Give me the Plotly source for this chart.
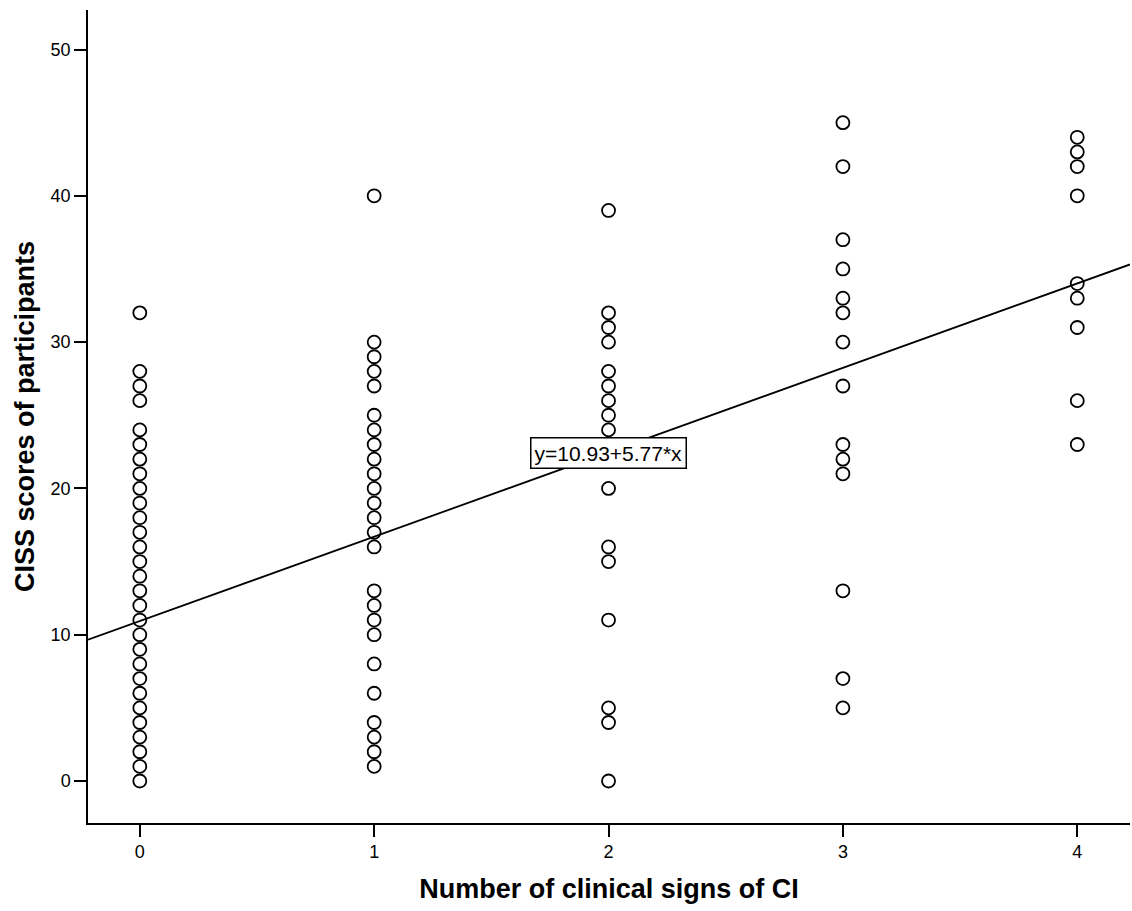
import plotly.graph_objects as go

# Data
signs_0 = [32, 28, 27, 26, 24, 23, 22, 21, 20, 19, 18, 17, 16, 15, 14, 13, 12, 11, 10, 9, 8, 7, 6, 5, 4, 3, 2, 1, 0]
signs_1 = [40, 30, 29, 28, 27, 25, 24, 23, 22, 21, 20, 19, 18, 17, 16, 13, 12, 11, 10, 8, 6, 4, 3, 2, 1]
signs_2 = [39, 32, 31, 30, 28, 27, 26, 25, 24, 20, 16, 15, 11, 5, 4, 0]
signs_3 = [45, 42, 37, 35, 33, 32, 30, 27, 23, 22, 21, 13, 7, 5]
signs_4 = [44, 43, 42, 40, 34, 33, 31, 26, 23]
groups = [signs_0, signs_1, signs_2, signs_3, signs_4]

intercept = 10.93
slope = 5.77
x_range = [-0.221, 4.225]
y_range = [-2.87, 52.7]

xs, ys = [], []
for k, vals in enumerate(groups):
    xs += [k] * len(vals)
    ys += vals

fig = go.Figure()
fig.add_trace(go.Scatter(
    x=[x_range[0], x_range[1]],
    y=[intercept + slope * x_range[0], intercept + slope * x_range[1]],
    mode="lines", line=dict(color="black", width=1.8), showlegend=False, hoverinfo="skip"))
fig.add_trace(go.Scatter(
    x=xs, y=ys, mode="markers",
    marker=dict(symbol="circle-open", size=13, color="black", line=dict(width=1.8)),
    showlegend=False))

fig.add_annotation(
    x=2.0, y=22.45, xref="x", yref="y", text="y=10.93+5.77*x", showarrow=False,
    font=dict(family="Liberation Sans, Arial", size=21, color="black"),
    bgcolor="white", bordercolor="black", borderwidth=1.5, borderpad=3)

axis_font = dict(family="Liberation Sans, Arial", size=18, color="black")
title_font = dict(family="Liberation Sans, Arial", size=27, color="black")

fig.update_layout(
    width=1132, height=911,
    margin=dict(l=88, r=2, t=10, b=88),
    plot_bgcolor="white", paper_bgcolor="white",
    xaxis=dict(range=x_range, tickvals=[0, 1, 2, 3, 4], ticks="outside", ticklen=12,
               tickcolor="black", tickwidth=1.5, showgrid=False, zeroline=False, showline=True,
               linecolor="black", linewidth=1.5, tickfont=axis_font,
               title=dict(text="<b>Number of clinical signs of CI</b>", font=title_font, standoff=18)),
    yaxis=dict(range=y_range, tickvals=[0, 10, 20, 30, 40, 50], ticks="outside", ticklen=12,
               tickcolor="black", tickwidth=1.5, showgrid=False, zeroline=False, showline=True,
               linecolor="black", linewidth=1.5, tickfont=axis_font,
               title=dict(text="<b>CISS scores of participants</b>", font=title_font, standoff=8)),
)

fig.write_html("out.html")
